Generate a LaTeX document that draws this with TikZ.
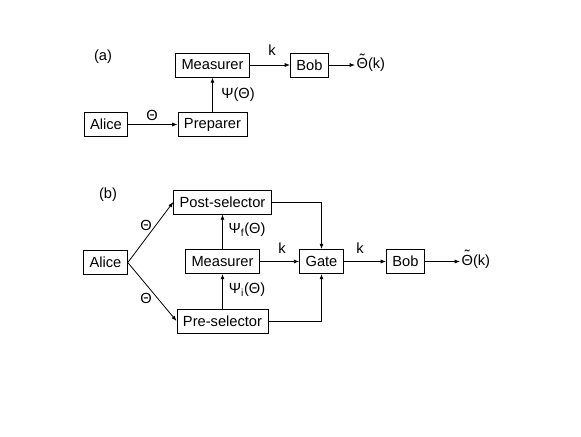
\documentclass[tikz,border=0pt]{standalone}
\usepackage{fontspec}
\setmainfont{Liberation Sans}
\usetikzlibrary{arrows.meta}
\newcommand\thetatilde{\ooalign{Θ\cr\hidewidth\raisebox{0.3em}{\char"02DC}\hidewidth\cr}}

\begin{document}
\begin{tikzpicture}[x=0.75pt, y=-0.75pt, font=\fontsize{11}{13}\selectfont]
\tikzset{boite/.style={draw, inner xsep=4.5pt, minimum height=18pt, line width=0.6pt},
  lien/.style={line width=0.6pt, -{Latex[length=4pt, width=3pt]}},
  etiq/.style={inner sep=1pt}}
\useasboundingbox (0, 0) rectangle (581, 436);
% (a)
\node[etiq] (La) at (103, 57) {(a)};
\node[boite] (Aa) at (106, 124.5) {Alice};
\node[boite] (Pa) at (212.5, 124.5) {Preparer};
\node[boite] (Ma) at (212.5, 65) {Measurer};
\node[boite] (Ba) at (309.5, 65) {Bob};
\coordinate (Fa) at (355, 65);
\node[etiq, anchor=west] (Ta) at (Fa) {\thetatilde(k)};
\draw[lien] (Aa) -- (Pa);
\draw[lien] (Pa) -- (Ma);
\draw[lien] (Ma) -- (Ba);
\draw[lien] (Ba) -- (Fa);
\node[etiq] at (152, 115) {Θ};
\node[etiq] at (238, 95) {Ψ(Θ)};
\node[etiq] at (272, 50) {k};
% (b)
\node[etiq] (Lb) at (108, 195) {(b)};
\node[boite] (Ab) at (105.5, 262.5) {Alice};
\node[boite] (Sb) at (222.5, 202) {Post-selector};
\node[boite] (Mb) at (222.5, 261.5) {Measurer};
\node[boite] (Rb) at (222.5, 321) {Pre-selector};
\node[boite] (Gb) at (321.5, 261.5) {Gate};
\node[boite] (Bb) at (405.5, 261.5) {Bob};
\coordinate (Fb) at (460, 261.5);
\node[etiq, anchor=west] (Tb) at (Fb) {\thetatilde(k)};
\draw[lien] (Ab.east) -- (Sb.west);
\draw[lien] (Ab.east) -- (Rb.west);
\draw[lien] (Rb) -- (Mb);
\draw[lien] (Mb) -- (Sb);
\draw[lien] (Mb) -- (Gb);
\draw[lien] (Sb) -| (Gb);
\draw[lien] (Rb) -| (Gb);
\draw[lien] (Gb) -- (Bb);
\draw[lien] (Bb) -- (Fb);
\node[etiq] at (146, 225) {Θ};
\node[etiq] at (146, 298) {Θ};
\node[etiq] at (247, 230) {Ψ\textsubscript{f}(Θ)};
\node[etiq] at (247, 290) {Ψ\textsubscript{i}(Θ)};
\node[etiq] at (282, 248) {k};
\node[etiq] at (360, 248) {k};
\end{tikzpicture}
\end{document}
